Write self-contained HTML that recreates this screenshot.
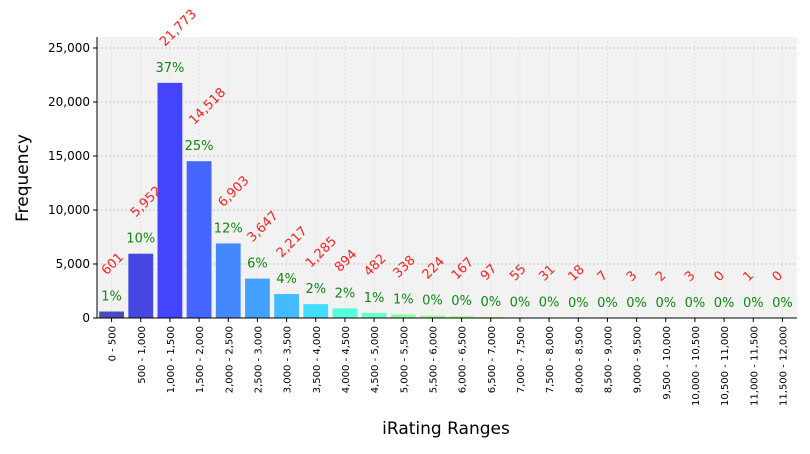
<!DOCTYPE html>
<html><head><meta charset="utf-8"><style>
body{margin:0;background:#fff;font-family:"DejaVu Sans","Liberation Sans",sans-serif}
</style></head><body>
<svg id="c" width="810" height="450" xmlns="http://www.w3.org/2000/svg" font-family="DejaVu Sans, Liberation Sans, sans-serif"></svg>
<script>
const categories=["0 - 500","500 - 1,000","1,000 - 1,500","1,500 - 2,000","2,000 - 2,500","2,500 - 3,000","3,000 - 3,500","3,500 - 4,000","4,000 - 4,500","4,500 - 5,000","5,000 - 5,500","5,500 - 6,000","6,000 - 6,500","6,500 - 7,000","7,000 - 7,500","7,500 - 8,000","8,000 - 8,500","8,500 - 9,000","9,000 - 9,500","9,500 - 10,000","10,000 - 10,500","10,500 - 11,000","11,000 - 11,500","11,500 - 12,000"];
const counts=[601,5952,21773,14518,6903,3647,2217,1285,894,482,338,224,167,97,55,31,18,7,3,2,3,0,1,0];
const percents=["1%","10%","37%","25%","12%","6%","4%","2%","2%","1%","1%","0%","0%","0%","0%","0%","0%","0%","0%","0%","0%","0%","0%","0%"];
const yTicks=[0,5000,10000,15000,20000,25000];
const colors=["#4a4ac0","#4646e0","#4444ff","#4466ff","#4488ff","#44a0ff","#44bbff","#44ddff","#55ffdd","#66ffcc","#88ffaa","#99ff99","#aaff88","#ccff66","#eeff55","#ffee44","#ffcc44","#ffaa44","#ff8844","#ff6644","#ff5544","#ff4444","#ff3333","#ff2222"];
const NS="http://www.w3.org/2000/svg",svg=document.getElementById('c');
const L=97,R=797,T=37,B=318;
const y=v=>B-v*0.0108, bw=(R-L)/categories.length, x=i=>L+i*bw;
function mk(t,a,p){const e=document.createElementNS(NS,t);for(const k in a)e.setAttribute(k,a[k]);(p||svg).appendChild(e);return e;}
let bg=mk('rect',{x:L,y:T,width:R-L,height:B-T,fill:'#f2f2f2'});


yTicks.forEach(v=>{
  let g=mk('line',{x1:L,x2:R,y1:y(v),y2:y(v),stroke:'#c8c8c8','stroke-dasharray':'2,2'});
  
  
  let tk=mk('line',{x1:L-4,x2:L,y1:y(v),y2:y(v),stroke:'#000'});
  
  
  let t=mk('text',{x:L-7,y:y(v)+4,'text-anchor':'end','font-size':12});
  t.textContent=v.toLocaleString('en-US');
  
  
});
categories.forEach((c,i)=>{
  const cx=x(i)+bw/2;
  let g=mk('line',{x1:cx,x2:cx,y1:T,y2:B,stroke:'#e2e2e2','stroke-dasharray':'2,2'});
  
  
});
categories.forEach((c,i)=>{
  const cx=x(i)+bw/2, w=bw*0.85, top=y(counts[i]);
  let r=mk('rect',{x:cx-w/2,y:top,width:w,height:B-top,fill:colors[i]});
  
  
  let p=mk('text',{x:cx,y:top-11,'text-anchor':'middle','font-size':13,fill:'#118811'});
  p.textContent=percents[i];
  
  
  const lx=cx-5, ly=top-36;
  let n=mk('text',{x:lx,y:ly,'text-anchor':'start','font-size':13,fill:'#ff2020',transform:`rotate(-45 ${lx} ${ly})`});
  n.textContent=counts[i].toLocaleString('en-US');
  
  
  let tk=mk('line',{x1:cx,x2:cx,y1:B,y2:B+4,stroke:'#000'});
  
  
  let t=mk('text',{x:cx+4,y:B+8,'text-anchor':'end','font-size':10,transform:`rotate(-90 ${cx+4} ${B+8})`});
  t.textContent=c;
  
  
});
let ax=mk('line',{x1:L,x2:L,y1:T,y2:B,stroke:'#000'});


let ax2=mk('line',{x1:L,x2:R,y1:B,y2:B,stroke:'#000'});


let xt=mk('text',{x:446,y:434,'text-anchor':'middle','font-size':17});
xt.textContent='iRating Ranges';


let yt=mk('text',{x:28,y:178,'text-anchor':'middle','font-size':17,transform:'rotate(-90 28 178)'});
yt.textContent='Frequency';


</script>
</body></html>
